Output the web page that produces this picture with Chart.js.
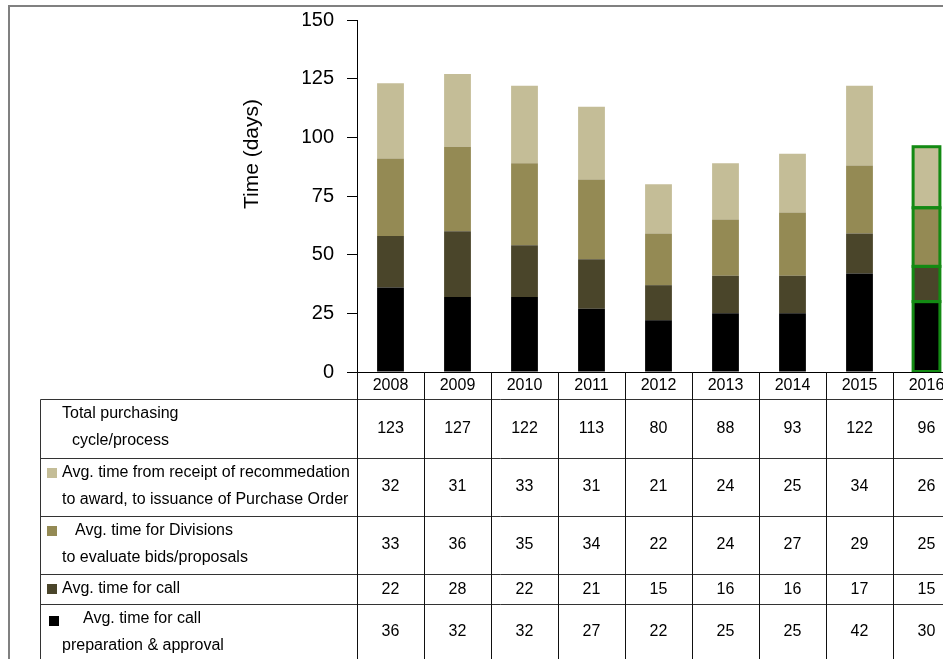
<!DOCTYPE html>
<html>
<head>
<meta charset="utf-8">
<script src="https://cdn.jsdelivr.net/npm/chart.js@4.4.1/dist/chart.umd.min.js"></script>
<style>
html, body { margin: 0; padding: 0; background: #fff; overflow: hidden; }
#wrap { position: relative; width: 943px; height: 659px; overflow: hidden; }
canvas { display: block; }
</style>
</head>
<body>
<div id="wrap"><canvas id="cycleChart" width="975" height="659"></canvas></div>
<script>
// chart data
const years = ['2008', '2009', '2010', '2011', '2012', '2013', '2014', '2015', '2016'];
const prepApproval = [36, 32, 32, 27, 22, 25, 25, 42, 30];
const callTime = [22, 28, 22, 21, 15, 16, 16, 17, 15];
const divisionsEval = [33, 36, 35, 34, 22, 24, 27, 29, 25];
const awardToPO = [32, 31, 33, 31, 21, 24, 25, 34, 26];
const totals = [123, 127, 122, 113, 80, 88, 93, 122, 96];
const yTicks = [0, 25, 50, 75, 100, 125, 150];

const rowLabels = [
    ['Total purchasing', 'cycle/process'],
    ['Avg. time from receipt of recommedation', 'to award, to issuance of Purchase Order'],
    ['Avg. time for Divisions', 'to evaluate bids/proposals'],
    ['Avg. time for call'],
    ['Avg. time for call', 'preparation & approval']
];

const FONT = "'Liberation Sans', Arial, sans-serif";
const colors = ['#000000', '#4A452A', '#948A54', '#C4BD97'];
const highlight = '#138a13';
const highlightIdx = years.length - 1;

function ds(label, data, color) {
    return {
        label: label,
        data: data,
        backgroundColor: color,
        borderWidth: 0,
        barPercentage: 0.8,
        categoryPercentage: 0.5
    };
}

function line(ctx, x1, y1, x2, y2) {
    ctx.beginPath();
    ctx.moveTo(x1, y1);
    ctx.lineTo(x2, y2);
    ctx.stroke();
}

// green outline around each segment of the 2016 bar
const outlinePlugin = {
    id: 'outline2016',
    afterDatasetsDraw(chart) {
        const ctx = chart.ctx;
        ctx.save();
        ctx.strokeStyle = highlight;
        ctx.lineWidth = 3;
        chart.data.datasets.forEach((d, di) => {
            const bar = chart.getDatasetMeta(di).data[highlightIdx];
            if (!bar) return;
            const p = bar.getProps(['x', 'y', 'base', 'width'], true);
            const top = Math.min(p.y, p.base);
            ctx.strokeRect(p.x - p.width / 2, top, p.width, Math.abs(p.base - p.y));
        });
        ctx.restore();
    }
};

// draws the data table under the bars, the axis title and the frame
const tablePlugin = {
    id: 'dataTable',
    afterDraw(chart) {
        const ctx = chart.ctx;
        const area = chart.chartArea;
        const xs = chart.scales.x;
        const colW = (area.right - area.left) / years.length;
        const rowLines = [399.5, 458.5, 516.5, 574.5, 604.5];
        const bottom = 659;
        const tableLeft = 40.5;

        ctx.save();
        // outer gray frame
        ctx.strokeStyle = '#808080';
        ctx.lineWidth = 2;
        line(ctx, 8, 6, 943, 6);
        line(ctx, 9, 5, 9, bottom);

        // baseline
        ctx.strokeStyle = '#000';
        ctx.lineWidth = 1;
        line(ctx, area.left - 9, Math.round(area.bottom) + 0.5, area.right, Math.round(area.bottom) + 0.5);

        // table grid
        ctx.strokeStyle = '#333';
        rowLines.forEach(y => line(ctx, tableLeft, y, area.right, y));
        line(ctx, tableLeft, rowLines[0], tableLeft, bottom);
        ctx.strokeStyle = '#111';
        for (let i = 0; i <= years.length; i++) {
            const x = Math.round(area.left + i * colW) + 0.5;
            line(ctx, x, area.bottom, x, bottom);
        }

        // year labels
        ctx.fillStyle = '#000';
        ctx.font = '16px ' + FONT;
        ctx.textAlign = 'center';
        ctx.textBaseline = 'middle';
        years.forEach((y, i) => ctx.fillText(y, xs.getPixelForValue(i), 386));

        // values
        const rows = [totals, awardToPO, divisionsEval, callTime, prepApproval];
        const valueY = [429, 487, 545, 590, 632];
        rows.forEach((row, r) => {
            row.forEach((v, i) => ctx.fillText(String(v), xs.getPixelForValue(i), valueY[r]));
        });

        // row labels
        ctx.textAlign = 'left';
        const labelPos = [
            [[62, 414], [72, 441]],
            [[62, 473], [62, 500]],
            [[75, 531], [62, 558]],
            [[62, 589]],
            [[83, 619], [62, 646]]
        ];
        rowLabels.forEach((lines, r) => {
            lines.forEach((t, k) => ctx.fillText(t, labelPos[r][k][0], labelPos[r][k][1]));
        });

        // legend keys
        const keyPos = [null, [47, 468], [47, 526], [47, 584], [49, 616]];
        const keyCol = [null, colors[3], colors[2], colors[1], colors[0]];
        keyPos.forEach((p, r) => {
            if (!p) return;
            ctx.fillStyle = keyCol[r];
            ctx.fillRect(p[0], p[1], 10, 10);
        });

        // axis title
        ctx.fillStyle = '#000';
        ctx.font = '21px ' + FONT;
        ctx.translate(252, 154);
        ctx.rotate(-Math.PI / 2);
        ctx.textAlign = 'center';
        ctx.fillText('Time (days)', 0, 0);
        ctx.restore();
    }
};

const chart = new Chart(document.getElementById('cycleChart'), {
    type: 'bar',
    data: {
        labels: years,
        datasets: [
            ds(rowLabels[4].join(' '), prepApproval, colors[0]),
            ds(rowLabels[3].join(' '), callTime, colors[1]),
            ds(rowLabels[2].join(' '), divisionsEval, colors[2]),
            ds(rowLabels[1].join(' '), awardToPO, colors[3])
        ]
    },
    options: {
        responsive: false,
        devicePixelRatio: 1,
        animation: false,
        layout: { padding: { left: 303, right: 15, top: 20, bottom: 287 } },
        plugins: {
            legend: { display: false },
            tooltip: { enabled: false }
        },
        scales: {
            x: {
                stacked: true,
                display: false
            },
            y: {
                stacked: true,
                min: 0,
                max: 150,
                afterBuildTicks: axis => { axis.ticks = yTicks.map(v => ({ value: v })); },
                afterFit: axis => { axis.width = 54; axis.paddingTop = 0; axis.paddingBottom = 0; },
                grid: { drawOnChartArea: false, drawTicks: true, tickLength: 10, color: '#000' },
                border: { color: '#000' },
                ticks: {
                    color: '#000',
                    padding: 13,
                    font: { family: FONT, size: 20, lineHeight: 0.8 }
                }
            }
        }
    },
    plugins: [outlinePlugin, tablePlugin]
});
</script>
</body>
</html>
